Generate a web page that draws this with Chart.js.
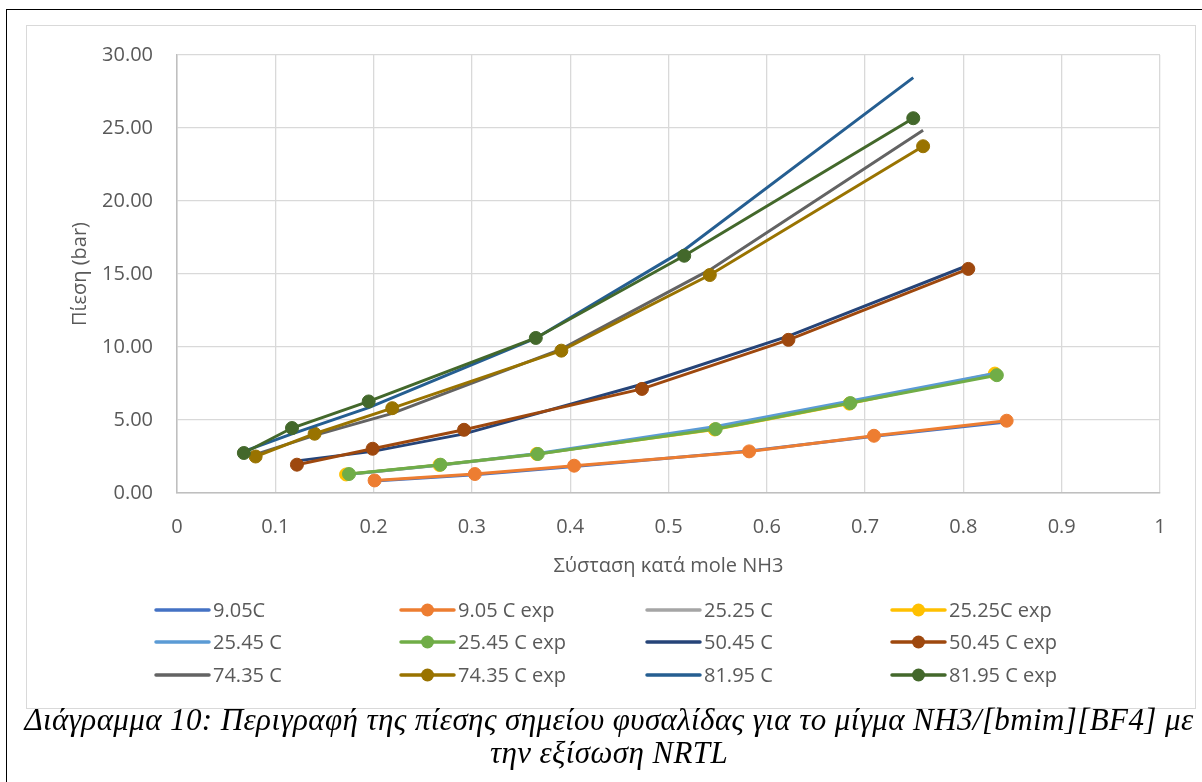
<!DOCTYPE html>
<html>
<head>
<meta charset="utf-8">
<script src="https://cdn.jsdelivr.net/npm/chart.js@4/dist/chart.umd.min.js"></script>
<style>
  html, body { margin: 0; padding: 0; background: #fff; }
  #wrap { position: relative; width: 1202px; height: 782px; overflow: hidden; background: #fff; }
  #outer { position: absolute; left: 6px; top: 9px; width: 1300px; height: 900px; border-top: 1.5px solid #000; border-left: 1.5px solid #000; }
  #frame { position: absolute; left: 26px; top: 25px; width: 1168px; height: 682px; border: 1px solid #D9D9D9; }
  #c { position: absolute; left: 0; top: 0; }
  #caption { position: absolute; left: 0; top: 703px; width: 1218px; text-align: center;
    font-family: "Liberation Serif", "DejaVu Serif", serif; font-style: italic; font-size: 31px; letter-spacing: 0.4px; line-height: 33px; color: #000; white-space: nowrap; }
</style>
</head>
<body>
<div id="wrap">
  <div id="outer"></div>
  <div id="frame"></div>
  <canvas id="c" width="1202" height="782"></canvas>
  <div id="caption">Διάγραμμα 10: Περιγραφή της πίεσης σημείου φυσαλίδας για το μίγμα NH3/[bmim][BF4] με<br>την εξίσωση NRTL</div>
</div>
<script>
// ---- Data (mole fraction NH3 and pressure in bar) ----
const seriesNames = ["9.05C", "9.05 C exp", "25.25 C", "25.25C exp", "25.45 C", "25.45 C exp",
                     "50.45 C", "50.45 C exp", "74.35 C", "74.35 C exp", "81.95 C", "81.95 C exp"];

const x_905 = [0.201, 0.303, 0.404, 0.582, 0.709, 0.844];
const p_905_nrtl = [0.82, 1.25, 1.82, 2.88, 3.88, 4.86];
const p_905_exp = [0.86, 1.30, 1.87, 2.85, 3.92, 4.95];

const x_2525 = [0.172, 0.267, 0.366, 0.547, 0.684, 0.832];
const p_2525_nrtl = [1.27, 1.90, 2.66, 4.45, 6.20, 8.12];
const p_2525_exp = [1.27, 1.92, 2.68, 4.35, 6.12, 8.18];

const x_2545 = [0.175, 0.268, 0.367, 0.548, 0.685, 0.834];
const p_2545_nrtl = [1.28, 1.92, 2.70, 4.55, 6.30, 8.22];
const p_2545_exp = [1.30, 1.94, 2.67, 4.38, 6.16, 8.07];

const x_5045 = [0.122, 0.199, 0.292, 0.473, 0.622, 0.805];
const p_5045_nrtl = [2.20, 2.85, 4.05, 7.45, 10.75, 15.60];
const p_5045_exp = [1.94, 3.03, 4.33, 7.13, 10.49, 15.35];

const x_7435 = [0.080, 0.140, 0.219, 0.391, 0.542, 0.759];
const p_7435_nrtl = [2.65, 3.95, 5.45, 9.85, 15.28, 24.85];
const p_7435_exp = [2.50, 4.06, 5.81, 9.75, 14.93, 23.75];

const x_8195 = [0.068, 0.117, 0.195, 0.365, 0.516, 0.749];
const p_8195_nrtl = [2.85, 4.05, 5.85, 10.60, 16.65, 28.45];
const p_8195_exp = [2.74, 4.45, 6.27, 10.62, 16.25, 25.67];

const xTicks = [0, 0.1, 0.2, 0.3, 0.4, 0.5, 0.6, 0.7, 0.8, 0.9, 1];
const yTicks = [0, 5, 10, 15, 20, 25, 30];

const seriesColors = ["#4472C4", "#ED7D31", "#A5A5A5", "#FFC000", "#5B9BD5", "#70AD47",
                      "#264478", "#9E480E", "#636363", "#997300", "#255E91", "#43682B"];

// ---- Build datasets ----
const pairs = [
  [x_905, p_905_nrtl], [x_905, p_905_exp],
  [x_2525, p_2525_nrtl], [x_2525, p_2525_exp],
  [x_2545, p_2545_nrtl], [x_2545, p_2545_exp],
  [x_5045, p_5045_nrtl], [x_5045, p_5045_exp],
  [x_7435, p_7435_nrtl], [x_7435, p_7435_exp],
  [x_8195, p_8195_nrtl], [x_8195, p_8195_exp]
];
const datasets = pairs.map((pr, i) => {
  const isExp = i % 2 === 1;
  return {
    label: seriesNames[i],
    data: pr[0].map((x, k) => ({ x: x, y: pr[1][k] })),
    showLine: true,
    borderColor: seriesColors[i],
    backgroundColor: seriesColors[i],
    borderWidth: 3,
    pointRadius: isExp ? 6.5 : 0,
    pointHoverRadius: isExp ? 6.5 : 0,
    pointBackgroundColor: seriesColors[i],
    pointBorderColor: seriesColors[i],
    pointBorderWidth: 1,
    tension: 0,
    order: pairs.length - i
  };
});

const FONT = '"Open Sans", "Liberation Sans", sans-serif';
const TXT = '#595959';

const legendPlugin = {
  id: 'gridLegend',
  afterDraw(chart) {
    const ctx = chart.ctx;
    const colX = [156, 401, 647, 892];
    const rowY = [610, 642, 675];
    ctx.save();
    chart.data.datasets.forEach((ds, i) => {
      const x0 = colX[i % 4];
      const y0 = rowY[Math.floor(i / 4)];
      ctx.strokeStyle = ds.borderColor;
      ctx.lineWidth = 3.5;
      ctx.lineCap = 'round';
      ctx.beginPath();
      ctx.moveTo(x0, y0);
      ctx.lineTo(x0 + 53, y0);
      ctx.stroke();
      if (ds.pointRadius > 0) {
        ctx.fillStyle = ds.pointBackgroundColor;
        ctx.beginPath();
        ctx.arc(x0 + 26.5, y0, 6.5, 0, Math.PI * 2);
        ctx.fill();
      }
      ctx.fillStyle = TXT;
      ctx.font = '20px ' + FONT;
      ctx.textAlign = 'left';
      ctx.textBaseline = 'middle';
      ctx.fillText(ds.label, x0 + 57, y0 + 1);
    });
    ctx.restore();
  }
};

new Chart(document.getElementById('c'), {
  type: 'scatter',
  data: { datasets: datasets },
  options: {
    responsive: false,
    animation: false,
    devicePixelRatio: 1,
    layout: { padding: { left: 0, top: 55, right: 42, bottom: 189 } },
    plugins: { legend: { display: false }, tooltip: { enabled: false } },
    scales: {
      x: {
        type: 'linear',
        min: xTicks[0], max: xTicks[xTicks.length - 1],
        afterFit(s) { s.height = 100; },
        afterBuildTicks(s) { s.ticks = xTicks.map(v => ({ value: v })); },
        ticks: {
          padding: 22, color: TXT, font: { family: FONT, size: 20 },
          callback: v => String(+v.toFixed(1))
        },
        grid: { color: '#D9D9D9', lineWidth: 1.3, drawTicks: false },
        border: { color: '#BFBFBF', width: 1.5 },
        title: { display: true, text: 'Σύσταση κατά mole NH3', color: TXT,
                 font: { family: FONT, size: 20 }, padding: { top: 0, bottom: 15 } }
      },
      y: {
        type: 'linear',
        min: yTicks[0], max: yTicks[yTicks.length - 1],
        afterFit(s) { s.width = 177; },
        afterBuildTicks(s) { s.ticks = yTicks.map(v => ({ value: v })); },
        ticks: {
          padding: 24, color: TXT, font: { family: FONT, size: 20 },
          callback: v => v.toFixed(2)
        },
        grid: { color: '#D9D9D9', lineWidth: 1.3, drawTicks: false },
        border: { color: '#BFBFBF', width: 1.5 },
        title: { display: true, text: 'Πίεση (bar)', color: TXT,
                 font: { family: FONT, size: 20 }, padding: { top: 68, bottom: 0 } }
      }
    }
  },
  plugins: [legendPlugin]
});
</script>
</body>
</html>
